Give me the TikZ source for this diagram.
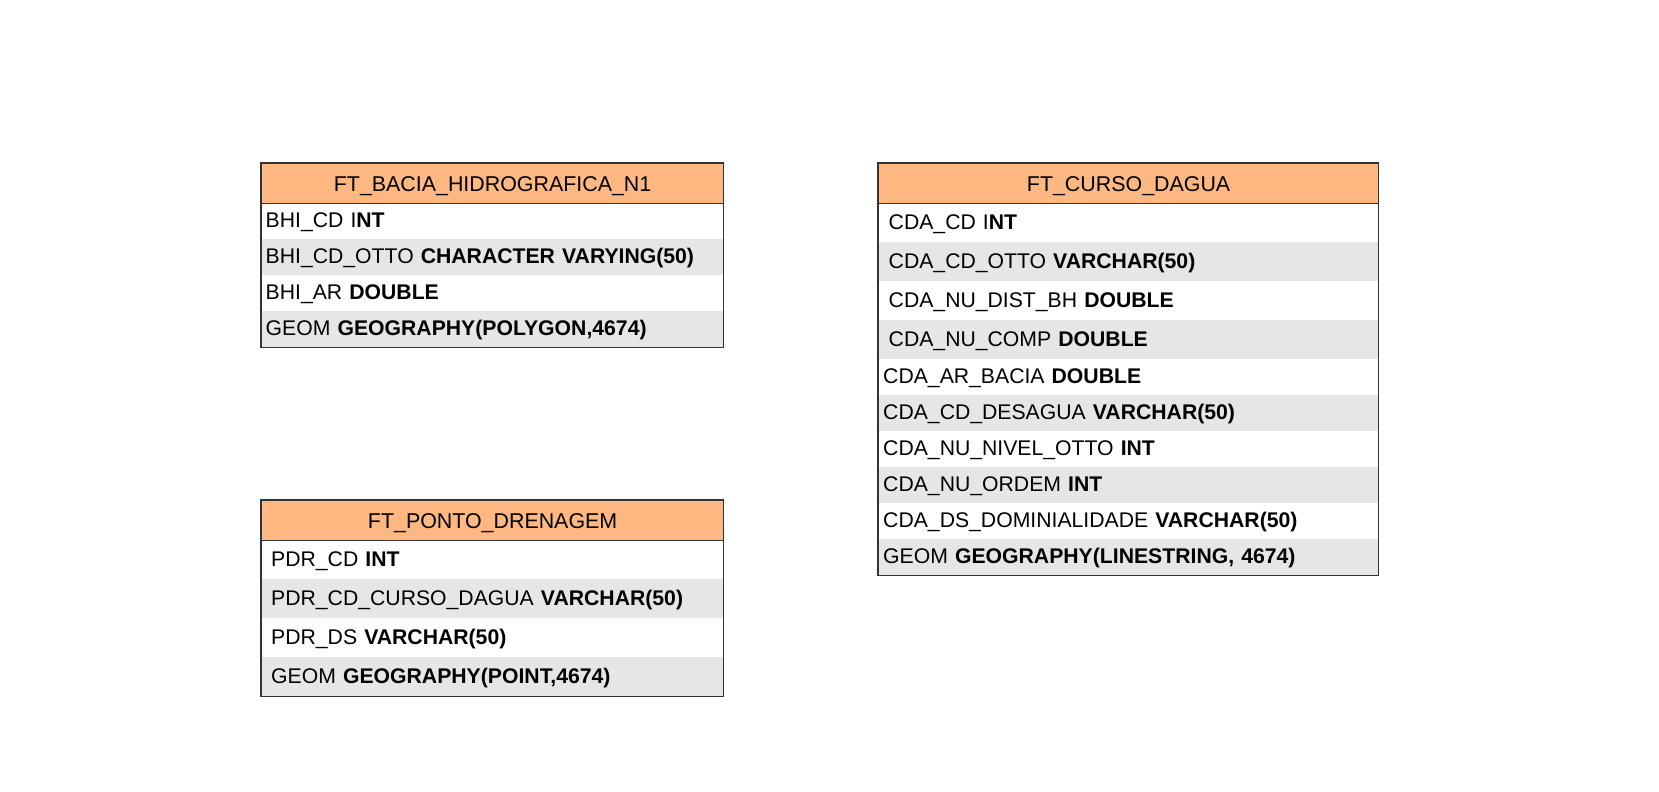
\documentclass[tikz,border=0pt]{standalone}
\usepackage{fontspec}
\setmainfont{Liberation Sans}
\definecolor{hdr}{RGB}{255,184,130}
\definecolor{rowgrey}{RGB}{230,230,230}
\definecolor{bord}{RGB}{51,51,51}
\tikzset{
  hdrbox/.style={draw=bord, line width=1.2pt, fill=hdr, anchor=north west, inner sep=0pt,
    minimum width=#1, minimum height=40pt, text height=15pt, text depth=0pt,
    font=\fontsize{21.4}{25}\selectfont},
  rowbox/.style n args={3}{anchor=north west, inner ysep=0pt, inner xsep=#3,
    text width=#1-2*#3, minimum height=#2, align=left, text height=13.5pt, text depth=0pt,
    font=\fontsize{21.2}{25}\selectfont},
  rowg/.style={fill=rowgrey},
  outline/.style={draw=bord, line width=1.2pt},
}
\begin{document}
\begin{tikzpicture}[x=1pt,y=-1pt]
\useasboundingbox[fill=white] (0,0) rectangle (1659,792);

% Table 1
\node[hdrbox=462pt] (t1h) at (261,163) {FT\_BACIA\_HIDROGRAFICA\_N1};
\node[rowbox={462pt}{36pt}{4.5pt}] (t1r1) at (261,203) {BHI\_CD I\textbf{NT}};
\node[rowbox={462pt}{36pt}{4.5pt}, rowg] (t1r2) at (261,239) {BHI\_CD\_OTTO \textbf{CHARACTER VARYING(50)}};
\node[rowbox={462pt}{36pt}{4.5pt}] (t1r3) at (261,275) {BHI\_AR \textbf{DOUBLE}};
\node[rowbox={462pt}{36pt}{4.5pt}, rowg] (t1r4) at (261,311) {GEOM \textbf{GEOGRAPHY(POLYGON,4674)}};
\draw[outline] (t1h.north west) rectangle (t1r4.south east);

% Table 2
\node[hdrbox=462pt] (t2h) at (261,500) {FT\_PONTO\_DRENAGEM};
\node[rowbox={462pt}{39pt}{10pt}] (t2r1) at (261,540) {PDR\_CD \textbf{INT}};
\node[rowbox={462pt}{39pt}{10pt}, rowg] (t2r2) at (261,579) {PDR\_CD\_CURSO\_DAGUA \textbf{VARCHAR(50)}};
\node[rowbox={462pt}{39pt}{10pt}] (t2r3) at (261,618) {PDR\_DS \textbf{VARCHAR(50)}};
\node[rowbox={462pt}{39pt}{10pt}, rowg] (t2r4) at (261,657) {GEOM \textbf{GEOGRAPHY(POINT,4674)}};
\draw[outline] (t2h.north west) rectangle (t2r4.south east);

% Table 3
\node[hdrbox=500pt] (t3h) at (878,163) {FT\_CURSO\_DAGUA};
\node[rowbox={500pt}{39pt}{10.5pt}] (t3r1) at (878,203) {CDA\_CD I\textbf{NT}};
\node[rowbox={500pt}{39pt}{10.5pt}, rowg] (t3r2) at (878,242) {CDA\_CD\_OTTO \textbf{VARCHAR(50)}};
\node[rowbox={500pt}{39pt}{10.5pt}] (t3r3) at (878,281) {CDA\_NU\_DIST\_BH \textbf{DOUBLE}};
\node[rowbox={500pt}{39pt}{10.5pt}, rowg] (t3r4) at (878,320) {CDA\_NU\_COMP \textbf{DOUBLE}};
\node[rowbox={500pt}{36pt}{5pt}] (t3r5) at (878,359) {CDA\_AR\_BACIA \textbf{DOUBLE}};
\node[rowbox={500pt}{36pt}{5pt}, rowg] (t3r6) at (878,395) {CDA\_CD\_DESAGUA \textbf{VARCHAR(50)}};
\node[rowbox={500pt}{36pt}{5pt}] (t3r7) at (878,431) {CDA\_NU\_NIVEL\_OTTO \textbf{INT}};
\node[rowbox={500pt}{36pt}{5pt}, rowg] (t3r8) at (878,467) {CDA\_NU\_ORDEM \textbf{INT}};
\node[rowbox={500pt}{36pt}{5pt}] (t3r9) at (878,503) {CDA\_DS\_DOMINIALIDADE \textbf{VARCHAR(50)}};
\node[rowbox={500pt}{36pt}{5pt}, rowg] (t3r10) at (878,539) {GEOM \textbf{GEOGRAPHY(LINESTRING, 4674)}};
\draw[outline] (t3h.north west) rectangle (t3r10.south east);
\end{tikzpicture}
\end{document}
